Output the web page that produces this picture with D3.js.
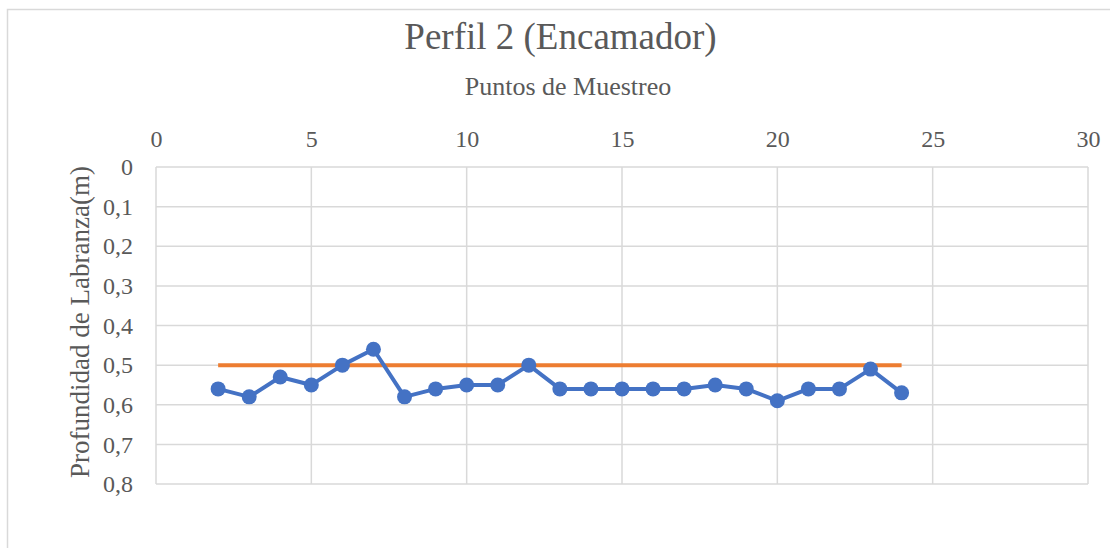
<!DOCTYPE html>
<html>
<head>
<meta charset="utf-8">
<script src="https://cdn.jsdelivr.net/npm/d3@7"></script>
<style>
  body { margin: 0; background: #fff; }
</style>
</head>
<body>
<div id="chart"></div>
<script>
// sample points and tillage depth (m)
var puntos = [2, 3, 4, 5, 6, 7, 8, 9, 10, 11, 12, 13, 14, 15, 16, 17, 18, 19, 20, 21, 22, 23, 24];
var profundidad = [0.56, 0.58, 0.53, 0.55, 0.50, 0.46, 0.58, 0.56, 0.55, 0.55, 0.50, 0.56,
    0.56, 0.56, 0.56, 0.56, 0.55, 0.56, 0.59, 0.56, 0.56, 0.51, 0.57];
// reference depth line
var refPuntos = [2, 24];
var referencia = [0.5, 0.5];

var xTicks = [0, 5, 10, 15, 20, 25, 30];
var yTicks = [0, 0.1, 0.2, 0.3, 0.4, 0.5, 0.6, 0.7, 0.8];

var FONT = "Liberation Serif";
var GRAY = "#595959";

var width = 1110, height = 548;
var margin = { top: 167, right: 22, bottom: 64, left: 156 };
var innerW = width - margin.left - margin.right;
var innerH = height - margin.top - margin.bottom;

var svg = d3.select("#chart")
    .append("svg")
    .attr("width", width)
    .attr("height", height);

// chart border (runs off the right and bottom edges)
svg.append("rect")
    .attr("x", 7.5)
    .attr("y", 9.5)
    .attr("width", width + 20)
    .attr("height", height + 20)
    .attr("fill", "none")
    .attr("stroke", "#d9d9d9")
    .attr("stroke-width", 1.5);

var g = svg.append("g")
    .attr("transform", "translate(" + margin.left + "," + margin.top + ")");

var x = d3.scaleLinear().domain([0, 30]).range([0, innerW]);
var y = d3.scaleLinear().domain([0, 0.8]).range([0, innerH]);

// grid
g.selectAll(".hgrid")
    .data(yTicks)
    .enter()
    .append("line")
    .attr("class", "hgrid")
    .attr("x1", 0).attr("x2", innerW)
    .attr("y1", d => y(d)).attr("y2", d => y(d))
    .attr("stroke", "#d9d9d9")
    .attr("stroke-width", 1.5);

g.selectAll(".vgrid")
    .data(xTicks)
    .enter()
    .append("line")
    .attr("class", "vgrid")
    .attr("x1", d => x(d)).attr("x2", d => x(d))
    .attr("y1", 0).attr("y2", innerH)
    .attr("stroke", "#d9d9d9")
    .attr("stroke-width", 1.5);

// axes (x on top, y on the left)
var fmt = d => d === 0 ? "0" : d3.format(".1f")(d).replace(".", ",");

var xAxis = g.append("g")
    .attr("class", "x-axis")
    .call(d3.axisTop(x).tickValues(xTicks).tickSize(0).tickPadding(20));
xAxis.select(".domain").remove();
xAxis.attr("font-family", FONT).attr("font-size", 24);
xAxis.selectAll("text").attr("fill", GRAY);

var yAxis = g.append("g")
    .attr("class", "y-axis")
    .call(d3.axisLeft(y).tickValues(yTicks).tickFormat(fmt).tickSize(0).tickPadding(23));
yAxis.select(".domain").remove();
yAxis.attr("font-family", FONT).attr("font-size", 24);
yAxis.selectAll("text").attr("fill", GRAY);

// reference line
var line = d3.line()
    .x(d => x(d[0]))
    .y(d => y(d[1]));

g.append("path")
    .datum(refPuntos.map((p, i) => [p, referencia[i]]))
    .attr("d", line)
    .attr("fill", "none")
    .attr("stroke", "#ED7D31")
    .attr("stroke-width", 4);

// depth series
var serie = puntos.map((p, i) => [p, profundidad[i]]);

g.append("path")
    .datum(serie)
    .attr("d", line)
    .attr("fill", "none")
    .attr("stroke", "#4472C4")
    .attr("stroke-width", 4)
    .attr("stroke-linejoin", "round");

g.selectAll(".punto")
    .data(serie)
    .enter()
    .append("circle")
    .attr("class", "punto")
    .attr("cx", d => x(d[0]))
    .attr("cy", d => y(d[1]))
    .attr("r", 7.5)
    .attr("fill", "#4472C4");

// titles
svg.append("text")
    .attr("x", 560.5)
    .attr("y", 49)
    .attr("text-anchor", "middle")
    .attr("font-family", FONT)
    .attr("font-size", 37)
    .attr("fill", GRAY)
    .text("Perfil 2 (Encamador)");

svg.append("text")
    .attr("x", 568)
    .attr("y", 95)
    .attr("text-anchor", "middle")
    .attr("font-family", FONT)
    .attr("font-size", 26)
    .attr("fill", GRAY)
    .text("Puntos de Muestreo");

svg.append("text")
    .attr("transform", "translate(89,322) rotate(-90)")
    .attr("text-anchor", "middle")
    .attr("font-family", FONT)
    .attr("font-size", 27)
    .attr("fill", GRAY)
    .text("Profundidad de Labranza(m)");
</script>
</body>
</html>
